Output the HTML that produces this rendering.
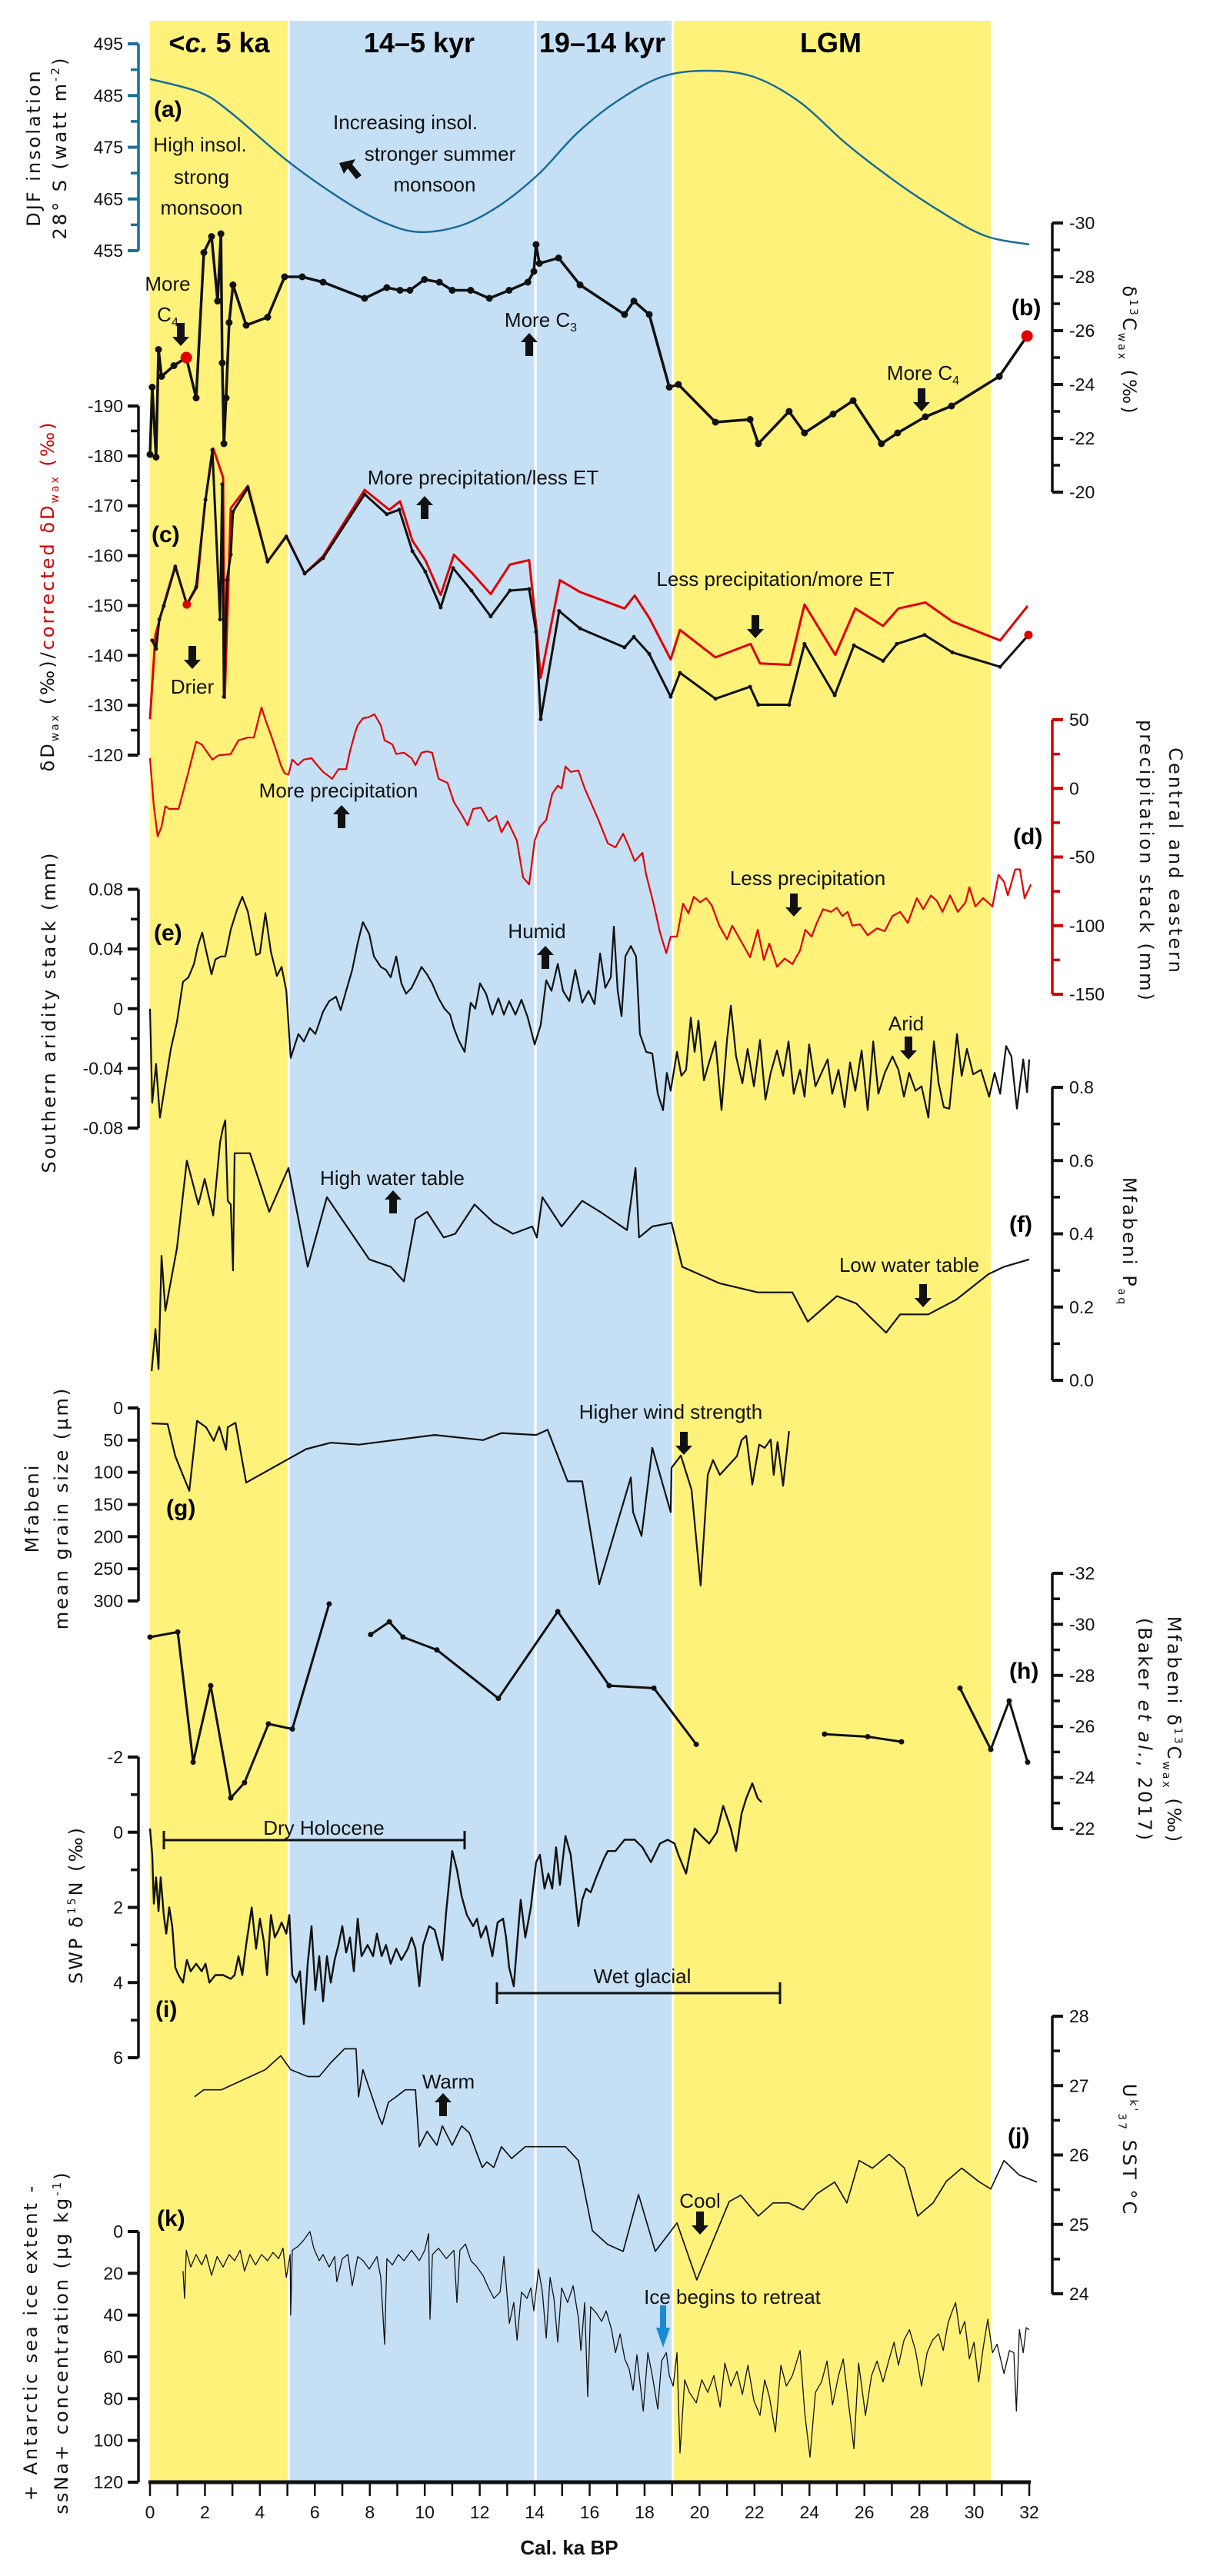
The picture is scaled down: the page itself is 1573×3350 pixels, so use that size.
<!DOCTYPE html>
<html><head><meta charset="utf-8">
<style>
html,body{margin:0;padding:0;background:#fff;}
svg{display:block;}
.tl{font-family:"Liberation Sans Narrow","Liberation Sans",sans-serif;font-size:23px;fill:#111;}
.ann{font-family:"Liberation Sans Narrow","Liberation Sans",sans-serif;font-size:26px;fill:#111;}
.hdr{font-family:"Liberation Sans Narrow","Liberation Sans",sans-serif;font-size:36px;font-weight:bold;fill:#000;}
.plab{font-family:"Liberation Sans Narrow","Liberation Sans",sans-serif;font-size:30px;font-weight:bold;fill:#000;}
.ttl{font-family:"DejaVu Sans","Liberation Sans",sans-serif;font-size:24px;letter-spacing:3px;fill:#111;}
</style></head>
<body>
<svg id="fig" xmlns="http://www.w3.org/2000/svg" width="1573" height="3350" viewBox="0 0 1573 3350">
<rect x="0" y="0" width="1573" height="3350" fill="#fff"/>
<g id="bands"></g>
<g id="axes"></g>
<g id="series"></g>

<!-- header labels -->
<g>
<text class="hdr" x="285" y="68" text-anchor="middle">&lt;<tspan font-style="italic">c.</tspan> 5 ka</text>
<text class="hdr" x="545" y="68" text-anchor="middle">14–5 kyr</text>
<text class="hdr" x="783" y="68" text-anchor="middle">19–14 kyr</text>
<text class="hdr" x="1080" y="68" text-anchor="middle">LGM</text>
</g>

<!-- panel letters -->
<g>
<text class="plab" x="200" y="152">(a)</text>
<text class="plab" x="1315" y="410">(b)</text>
<text class="plab" x="197" y="705">(c)</text>
<text class="plab" x="1317" y="1098">(d)</text>
<text class="plab" x="200" y="1223">(e)</text>
<text class="plab" x="1312" y="1602">(f)</text>
<text class="plab" x="216" y="1971">(g)</text>
<text class="plab" x="1312" y="2183">(h)</text>
<text class="plab" x="202" y="2623">(i)</text>
<text class="plab" x="1310" y="2788">(j)</text>
<text class="plab" x="204" y="2895">(k)</text>
</g>

<!-- annotations -->
<g>
<text class="ann" x="527" y="168" text-anchor="middle">Increasing insol.</text>
<text class="ann" x="572" y="209" text-anchor="middle">stronger summer</text>
<text class="ann" x="565" y="249" text-anchor="middle">monsoon</text>
<path d="M441 212 L462 207 L458 214 L470 228 L463 233 L452 219 L447 226 Z" fill="#111"/>
<text class="ann" x="260" y="197" text-anchor="middle">High insol.</text>
<text class="ann" x="262" y="239" text-anchor="middle">strong</text>
<text class="ann" x="262" y="279" text-anchor="middle">monsoon</text>
<text class="ann" x="218" y="378" text-anchor="middle">More</text>
<text class="ann" x="218" y="418" text-anchor="middle">C<tspan font-size="16" dy="6">4</tspan></text>
<text class="ann" x="703" y="425" text-anchor="middle">More C<tspan font-size="16" dy="6">3</tspan></text>
<text class="ann" x="1200" y="494" text-anchor="middle">More C<tspan font-size="16" dy="6">4</tspan></text>
<text class="ann" x="628" y="630" text-anchor="middle">More precipitation/less ET</text>
<text class="ann" x="1008" y="762" text-anchor="middle">Less precipitation/more ET</text>
<text class="ann" x="250" y="902" text-anchor="middle">Drier</text>
<text class="ann" x="440" y="1037" text-anchor="middle">More precipitation</text>
<text class="ann" x="1050" y="1151" text-anchor="middle">Less precipitation</text>
<text class="ann" x="698" y="1220" text-anchor="middle">Humid</text>
<text class="ann" x="1178" y="1340" text-anchor="middle">Arid</text>
<text class="ann" x="510" y="1541" text-anchor="middle">High water table</text>
<text class="ann" x="1182" y="1654" text-anchor="middle">Low water table</text>
<text class="ann" x="872" y="1845" text-anchor="middle">Higher wind strength</text>
<text class="ann" x="421" y="2386" text-anchor="middle">Dry Holocene</text>
<path d="M213 2393 H604 M213 2381 V2405 M604 2381 V2405" stroke="#111" stroke-width="3" fill="none"/>
<text class="ann" x="835" y="2579" text-anchor="middle">Wet glacial</text>
<path d="M646 2592 H1014 M646 2578 V2606 M1014 2578 V2606" stroke="#111" stroke-width="3" fill="none"/>
<text class="ann" x="583" y="2716" text-anchor="middle">Warm</text>
<text class="ann" x="910" y="2871" text-anchor="middle">Cool</text>
<text class="ann" x="952" y="2996" text-anchor="middle">Ice begins to retreat</text>
<path d="M858 2998 H866 V3027 H871 L862 3053 L853 3027 H858 Z" fill="#1a8ad4"/>
</g>

<!-- axis titles -->
<g>
<text class="ttl" transform="translate(52,192) rotate(-90)" text-anchor="middle">DJF insolation</text>
<text class="ttl" transform="translate(86,192) rotate(-90)" text-anchor="middle">28° S  (watt m<tspan font-size="15" dy="-9">-2</tspan><tspan dy="9">)</tspan></text>
<text class="ttl" transform="translate(70,775) rotate(-90)" text-anchor="middle">δD<tspan font-size="14" dy="6">wax</tspan><tspan dy="-6"> (‰)/</tspan><tspan fill="#d10000">corrected δD</tspan><tspan fill="#d10000" font-size="14" dy="6">wax</tspan><tspan fill="#d10000" dy="-6"> (‰)</tspan></text>
<text class="ttl" transform="translate(72,1316) rotate(-90)" text-anchor="middle">Southern aridity stack (mm)</text>
<text class="ttl" transform="translate(50,1961) rotate(-90)" text-anchor="middle">Mfabeni</text>
<text class="ttl" transform="translate(88,1961) rotate(-90)" text-anchor="middle">mean grain size (µm)</text>
<text class="ttl" transform="translate(107,2477) rotate(-90)" text-anchor="middle">SWP δ<tspan font-size="14" dy="-9">15</tspan><tspan dy="9">N (‰)</tspan></text>
<text class="ttl" transform="translate(48,3046) rotate(-90)" text-anchor="middle">+ Antarctic sea ice extent -</text>
<text class="ttl" transform="translate(88,3046) rotate(-90)" text-anchor="middle">ssNa+ concentration (µg kg<tspan font-size="15" dy="-9">-1</tspan><tspan dy="9">)</tspan></text>
<text class="ttl" transform="translate(1460,456) rotate(90)" text-anchor="middle">δ<tspan font-size="14" dy="-9">13</tspan><tspan dy="9">C</tspan><tspan font-size="14" dy="6">wax</tspan><tspan dy="-6"> (‰)</tspan></text>
<text class="ttl" transform="translate(1520,1120) rotate(90)" text-anchor="middle">Central and eastern</text>
<text class="ttl" transform="translate(1482,1120) rotate(90)" text-anchor="middle">precipitation stack (mm)</text>
<text class="ttl" transform="translate(1460,1615) rotate(90)" text-anchor="middle">Mfabeni P<tspan font-size="14" dy="6">aq</tspan></text>
<text class="ttl" transform="translate(1518,2250) rotate(90)" text-anchor="middle">Mfabeni δ<tspan font-size="14" dy="-9">13</tspan><tspan dy="9">C</tspan><tspan font-size="14" dy="6">wax</tspan><tspan dy="-6"> (‰)</tspan></text>
<text class="ttl" transform="translate(1480,2250) rotate(90)" text-anchor="middle">(Baker <tspan font-style="italic">et al.</tspan>, 2017)</text>
<text class="ttl" transform="translate(1460,2796) rotate(90)" text-anchor="middle">U<tspan font-size="14" dy="-9">k'</tspan><tspan font-size="14" dy="15">37</tspan><tspan dy="-6"> SST °C</tspan></text>
<text x="740" y="3322" text-anchor="middle" font-family="Liberation Sans Narrow, Liberation Sans, sans-serif" font-size="26" font-weight="bold" fill="#111">Cal. ka BP</text>
</g>
<g id="arrows"></g>
</svg>

<script>
// ---------- DATA (ages in ka BP) ----------
const bandStarts = [0, 5.05, 14.03, 19.03];
const bandEnds = [5.05, 14.03, 19.03, 30.6];
const bandKinds = ["yellow", "blue", "blue", "yellow"];

const insolAge = [0,1.82,2.94,5.04,7.14,8.54,9.8,11.34,12.74,14.14,15.54,16.94,18.62,20.3,21.98,23.66,25.34,27.02,28.7,30.38,32.0];
const insolVal = [488.2,485.6,481.7,472.2,464.4,460.4,458.6,459.9,463.8,469.8,477.7,483.7,488.6,489.8,488.6,483.7,475.7,468.8,462.8,457.9,456.2];

const d13cAge = [0,0.08,0.22,0.31,0.42,0.87,1.32,1.68,1.96,2.24, 2.46,2.58,2.63,2.69,2.77,2.88,3.02,3.5,4.28,4.9, 5.54,6.3,7.81,8.62,9.1,9.46,9.99,10.53,11.0,11.67, 12.35,13.07,13.75,13.97,14.05,14.17,14.87,15.65,17.27,17.61, 18.17,18.9,19.23,20.58,21.84,22.14,23.26,23.82,24.86,25.59, 26.62,27.21,28.22,29.17,30.91,31.92];
const d13cVal = [-21.4,-23.9,-21.3,-25.3,-24.3,-24.7,-25.0,-23.5,-28.9,-29.5, -27.1,-29.6,-24.8,-21.8,-23.5,-26.3,-27.7,-26.2,-26.5,-28, -28,-27.8,-27.2,-27.6,-27.5,-27.5,-27.9,-27.8,-27.5,-27.5, -27.2,-27.5,-27.8,-28.2,-29.2,-28.5,-28.7,-27.7,-26.6,-27.1, -26.6,-23.9,-24.0,-22.6,-22.7,-21.8,-23.0,-22.2,-22.9,-23.4, -21.8,-22.2,-22.8,-23.2,-24.3,-25.8];
const d13cRedIdx = [6, 55];

const dDAge = [0.08,0.22,0.34,0.5,0.92,1.34,1.68,2.02,2.27,2.55, 2.63,2.69,2.8,2.94,3.02,3.56,4.28,4.96,5.63,6.3, 7.81,8.62,9.07,9.55,10.02,10.58,11.03,11.7,12.4,13.1, 13.8,14.05,14.22,14.89,15.65,17.27,17.61,18.17,18.95,19.29, 20.58,21.84,22.14,23.26,23.82,24.92,25.62,26.68,27.18,28.19, 29.2,30.94,31.97];
const dDVal = [-143.0,-141.3,-147.2,-149.9,-157.8,-150.2,-153.7,-171.2,-181.2,-147.2, -174.3,-131.7,-155.1,-160.2,-168.8,-173.6,-158.8,-163.8,-156.4,-159.5, -172.3,-168.3,-169.2,-160.9,-156.8,-149.6,-157.5,-153.0,-147.8,-153.0, -153.3,-144.7,-127.2,-148.9,-145.4,-141.6,-143.7,-140.3,-131.7,-136.5, -131.3,-133.7,-130.1,-130.1,-142.3,-132.0,-142.0,-138.9,-142.3,-144.1, -140.6,-137.7,-144.1];
const dDRedIdx = [5, 52];

const dDcorAge = [0,0.2,0.5,0.92,1.34,1.71,1.99,2.3,2.66,2.72, 2.94,3.56,4.28,4.96,5.63,6.3,7.81,8.71,9.1,9.55, 10.02,10.58,11.06,11.67,12.4,13.1,13.8,14.05,14.22,14.92, 15.65,17.27,17.64,18.17,18.95,19.29,20.58,21.86,22.2,23.29, 23.82,24.94,25.67,26.68,27.24,28.22,29.2,30.94,31.94];
const dDcorVal = [-127.2,-144.1,-150.2,-158.0,-150.2,-153.7,-170.2,-181.5,-175.7,-131.5, -169.5,-174.0,-158.8,-164.0,-156.4,-159.9,-173.2,-169.2,-170.9,-163.0, -159.1,-152.1,-160.2,-156.8,-152.3,-158.2,-159.1,-146.1,-135.5,-155.1, -152.7,-149.4,-152.0,-147.5,-139.2,-145.1,-139.6,-142.3,-138.4,-138.1, -150.2,-140.1,-149.4,-145.9,-149.4,-150.6,-146.8,-143.0,-149.9];

const precipAge = [0,0.14,0.28,0.42,0.56,0.70,1.04,1.20,1.40,1.68, 1.88,2.27,2.49,2.94,3.22,3.56,3.78,4.06,4.20,4.40, 4.62,4.76,4.90,5.04,5.18,5.38,5.60,5.88,6.08,6.30, 6.63,6.86,7.14,7.28,7.47,7.56,7.75,7.98,8.17,8.40, 8.54,8.82,8.96,9.24,9.52,9.66,9.88,10.08,10.27,10.50, 10.83,11.06,11.34,11.56,11.76,12.04,12.32,12.60,12.79,13.02, 13.35,13.58,13.80,14.00,14.19,14.42,14.64,14.84,14.98,15.12, 15.31,15.59,15.82,16.04,16.32,16.66,16.94,17.22,17.44,17.64, 17.92,18.06,18.34,18.56,18.79,18.95,19.18,19.40,19.60,19.79, 20.02,20.24,20.44,20.72,21.00,21.19,21.56,21.84,22.12,22.34, 22.54,22.82,23.10,23.38,23.66,23.85,24.08,24.27,24.50,24.78, 25.00,25.20,25.39,25.56,25.84,26.12,26.46,26.74,27.02,27.30, 27.58,27.91,28.14,28.42,28.64,28.84,29.12,29.40,29.68,29.82, 30.04,30.32,30.66,30.88,31.08,31.22,31.49,31.66,31.83,32.06];
const precipVal = [22,-13,-35,-28,-13,-15,-15,-3,12,34, 32,21,24,25,35,37,37,59,50,39, 26,17,11,10,21,17,21,22,17,12, 7,14,14,27,41,46,51,52,54,46, 35,32,25,26,22,17,26,27,26,7, 4,-10,-19,-27,-15,-14,-24,-20,-32,-24, -38,-65,-70,-38,-28,-23,-4,2,0,16, 12,13,0,-10,-23,-40,-43,-33,-43,-53, -47,-63,-85,-105,-120,-108,-108,-84,-91,-79, -83,-80,-85,-100,-110,-100,-113,-123,-103,-125, -113,-130,-124,-128,-118,-103,-108,-98,-88,-90, -87,-93,-90,-100,-99,-107,-102,-104,-93,-90, -98,-80,-88,-78,-82,-90,-78,-90,-83,-72, -86,-80,-86,-63,-68,-78,-59,-59,-80,-70];

const aridAge = [0,0.08,0.22,0.36,0.56,0.76,0.98,1.20,1.40,1.60, 1.74,1.90,2.04,2.24,2.38,2.58,2.74,2.94,3.16,3.36, 3.56,3.86,4.00,4.20,4.40,4.62,4.79,4.96,5.12,5.40, 5.60,5.82,6.02,6.30,6.52,6.77,6.94,7.14,7.36,7.56, 7.75,7.98,8.15,8.40,8.59,8.76,8.96,9.15,9.32,9.52, 9.71,9.88,10.08,10.27,10.50,10.72,10.92,11.06,11.23,11.45, 11.67,11.84,12.01,12.23,12.46,12.68,12.88,13.07,13.30,13.52, 13.75,14.00,14.22,14.42,14.61,14.84,15.03,15.26,15.48,15.73, 15.96,16.18,16.38,16.57,16.77,16.88,17.02,17.16,17.30,17.50, 17.69,17.83,18.06,18.28,18.48,18.67,18.81,18.95,19.18,19.34, 19.51,19.68,19.82,19.96,20.16,20.35,20.58,20.80,21.00,21.14, 21.33,21.56,21.75,21.98,22.20,22.40,22.59,22.82,23.04,23.24, 23.43,23.66,23.82,23.99,24.22,24.44,24.66,24.83,25.06,25.28, 25.48,25.67,25.90,26.12,26.32,26.51,26.74,27.02,27.24,27.44, 27.63,27.86,28.08,28.33,28.53,28.70,28.89,29.09,29.37,29.54, 29.73,29.96,30.24,30.54,30.74,30.94,31.16,31.35,31.55,31.78, 31.92,32.00];
const aridVal = [0.000,-0.063,-0.037,-0.073,-0.050,-0.027,-0.009,0.018,0.021,0.030, 0.042,0.051,0.039,0.023,0.033,0.035,0.035,0.053,0.066,0.075, 0.065,0.036,0.037,0.064,0.038,0.022,0.028,0.012,-0.033,-0.017, -0.022,-0.013,-0.017,-0.002,0.005,0.008,-0.001,0.012,0.026,0.044, 0.058,0.050,0.035,0.028,0.026,0.021,0.035,0.017,0.010,0.014, 0.021,0.028,0.023,0.017,0.007,0.000,-0.004,-0.013,-0.021,-0.029, 0.004,0.000,0.017,0.010,-0.004,0.007,-0.004,0.005,-0.004,0.006, -0.006,-0.024,-0.011,0.019,0.012,0.030,0.012,0.005,0.026,0.004, 0.012,0.003,0.037,0.014,0.021,0.055,0.012,-0.005,0.035,0.042, 0.035,-0.017,-0.029,-0.030,-0.057,-0.068,-0.043,-0.055,-0.029,-0.045, -0.041,-0.006,-0.029,-0.008,-0.048,-0.036,-0.022,-0.068,-0.021,0.002, -0.032,-0.050,-0.027,-0.052,-0.021,-0.061,-0.043,-0.028,-0.045,-0.022, -0.057,-0.041,-0.059,-0.024,-0.052,-0.043,-0.034,-0.057,-0.041,-0.066, -0.036,-0.055,-0.028,-0.068,-0.022,-0.057,-0.043,-0.032,-0.041,-0.059, -0.043,-0.055,-0.052,-0.073,-0.022,-0.050,-0.066,-0.067,-0.017,-0.045, -0.027,-0.044,-0.041,-0.059,-0.043,-0.057,-0.025,-0.032,-0.067,-0.034, -0.056,-0.034];

const paqAge = [0.06,0.2,0.31,0.42,0.56,0.98,1.34,1.76,1.99,2.3, 2.55,2.66,2.74,2.83,2.94,3.02,3.08,3.64,4.34,5.04, 5.74,6.44,7.98,8.76,9.24,9.66,10.08,10.69,11.11,11.81, 12.51,13.21,13.91,14.08,14.28,14.98,15.73,16.38,17.36,17.67, 17.8,18.28,18.98,19.37,20.72,22.12,23.38,23.94,25.0,25.7, 26.79,27.3,28.33,29.34,30.52,31.08,32.0];
const paqVal = [0.025,0.14,0.03,0.34,0.19,0.36,0.60,0.48,0.55,0.45, 0.65,0.69,0.71,0.49,0.48,0.30,0.62,0.62,0.46,0.58, 0.31,0.50,0.33,0.31,0.27,0.44,0.46,0.39,0.40,0.48, 0.43,0.40,0.42,0.39,0.50,0.42,0.49,0.46,0.41,0.58, 0.39,0.42,0.43,0.31,0.265,0.24,0.24,0.16,0.23,0.21, 0.13,0.18,0.18,0.22,0.29,0.31,0.33];

const grainAge = [0.06,0.64,0.92,1.43,1.71,2.04,2.32,2.52,2.77,2.83, 3.11,3.5,5.68,6.58,7.61,10.36,12.12,12.79,14.05,14.47, 15.2,15.73,16.35,17.5,17.58,17.89,18.28,18.95,18.98,19.32, 19.71,20.04,20.3,20.49,20.74,21.36,21.53,21.7,21.92,22.17, 22.37,22.59,22.7,22.84,23.04,23.26];
const grainVal = [24,25,75,129,20,30,51,29,65,30, 23,116,64,54,57,42,50,39,42,34, 114,114,274,108,162,199,62,162,93,74, 127,276,104,81,104,75,50,43,119,57, 62,49,104,53,121,36];

const bakerAge = [0,1.01,1.57,2.21,2.94,3.44,4.31,5.18,6.52, 8.03,8.71,9.21,10.44,12.68,14.84,16.71,18.34,19.88, 24.55,26.12,27.35, 29.48,30.6,31.27,31.94];
const bakerVal = [-29.5,-29.7,-24.6,-27.6,-23.2,-23.8,-26.1,-25.9,-30.8, -29.6,-30.1,-29.5,-29.0,-27.1,-30.5,-27.6,-27.5,-25.3, -25.7,-25.6,-25.4, -27.5,-25.1,-27.0,-24.6];
const bakerSeg = [0,0,0,0,0,0,0,0,0, 1,1,1,1,1,1,1,1,1, 2,2,2, 3,3,3,3];

const swpAge = [0,0.08,0.14,0.22,0.31,0.39,0.5,0.59,0.7,0.81, 0.92,1.04,1.2,1.34,1.48,1.68,1.88,2.02,2.16,2.38, 2.66,2.94,3.08,3.22,3.36,3.5,3.7,3.86,4.0,4.14, 4.26,4.4,4.54,4.68,4.79,4.96,5.07,5.18,5.32,5.46, 5.6,5.74,5.88,6.02,6.16,6.3,6.44,6.58,6.72,6.86, 7.0,7.14,7.28,7.42,7.56,7.7,7.92,8.12,8.26,8.43, 8.59,8.76,8.96,9.15,9.38,9.52,9.66,9.8,9.94,10.16, 10.36,10.64,10.78,11.0,11.17,11.34,11.53,11.76,11.9,12.04, 12.23,12.46,12.65,12.85,12.96,13.07,13.24,13.38,13.49,13.66, 13.86,14.05,14.19,14.36,14.5,14.64,14.78,14.92,15.12,15.31, 15.48,15.59,15.73,15.87,16.04,16.24,16.52,16.66,16.94,17.27, 17.64,17.92,18.23,18.56,18.84,19.09,19.23,19.51,19.82,20.07, 20.35,20.63,20.86,21.14,21.33,21.53,21.7,21.92,22.12,22.26];
const swpVal = [-0.1,0.6,1.9,1.2,2.1,1.2,2.2,2.7,2.0,2.5, 3.6,3.8,4.0,3.4,3.7,3.5,3.7,3.5,4.0,3.8, 3.8,3.9,3.8,3.3,3.8,3.0,2.0,3.1,2.3,2.9, 3.8,2.2,2.8,2.6,2.4,2.7,2.2,3.8,4.0,3.7, 5.1,3.5,2.5,4.2,3.3,4.5,3.3,4.0,3.4,3.0, 2.5,3.2,2.8,3.7,2.3,3.3,3.0,3.3,2.7,3.3, 3.0,3.5,3.1,3.4,3.1,2.8,3.1,4.1,3.0,2.5, 2.6,3.4,2.1,0.5,1.0,1.7,2.2,2.5,2.3,2.8, 2.5,3.3,2.4,2.3,2.8,3.6,4.1,2.8,1.8,2.8, 2.0,0.8,0.6,1.5,1.1,1.5,0.4,1.4,0.1,0.6, 1.7,2.5,1.8,1.5,1.6,1.2,0.7,0.5,0.5,0.2, 0.2,0.4,0.8,0.3,0.2,0.3,0.6,1.1,-0.1,0.1, 0.3,0.0,-0.7,-0.1,0.5,-0.5,-0.9,-1.3,-0.9,-0.8];

const sstAge = [1.62,1.96,2.6,4.2,4.76,5.12,5.74,6.16,6.58,7.08, 7.5,7.59,7.75,8.34,8.45,8.68,8.96,9.29,9.66,9.8, 10.08,10.44,10.64,11.0,11.34,11.62,11.9,12.09,12.26,12.51, 12.79,13.16,13.66,15.12,15.59,16.1,16.66,17.22,17.78,18.39, 19.18,19.9,21.08,21.5,22.14,22.68,23.24,23.77,24.27,24.92, 25.36,25.81,26.29,26.9,27.46,27.94,28.5,28.98,29.54,30.15, 30.6,31.08,31.64,32.28];
const sstVal = [26.84,26.94,26.94,27.23,27.43,27.23,27.13,27.13,27.33,27.53, 27.53,26.84,27.23,26.54,26.44,26.76,26.84,26.94,26.94,26.12, 26.34,26.14,26.42,26.14,26.42,26.32,26.02,25.82,25.9,25.82, 26.12,25.95,26.12,26.12,25.92,24.91,24.71,24.61,25.43,24.61, 25.02,24.2,25.33,25.42,25.12,25.31,25.31,25.21,25.44,25.61, 25.31,25.92,25.81,26.01,25.81,25.12,25.31,25.62,25.81,25.62, 25.51,25.92,25.71,25.61];

const naAge = [1.20,1.26,1.32,1.48,1.68,1.88,2.04,2.24,2.44,2.66, 2.88,3.08,3.28,3.44,3.64,3.84,4.06,4.28,4.48,4.68, 4.84,4.96,5.10,5.12,5.18,5.40,5.60,5.82,5.96,6.16, 6.30,6.52,6.72,6.80,7.00,7.20,7.36,7.56,7.76,7.98, 8.26,8.40,8.54,8.62,8.82,9.04,9.24,9.52,9.80,10.00, 10.14,10.19,10.28,10.50,10.78,11.06,11.17,11.28,11.48,11.68, 11.90,12.12,12.32,12.52,12.74,12.88,13.08,13.24,13.36,13.52, 13.72,13.86,13.97,14.14,14.28,14.42,14.56,14.70,14.84,14.98, 15.20,15.40,15.60,15.68,15.82,15.93,16.04,16.24,16.44,16.60, 16.80,16.94,17.11,17.28,17.44,17.58,17.72,17.95,18.12,18.28, 18.48,18.62,18.79,18.90,19.04,19.18,19.29,19.46,19.63,19.88, 20.08,20.30,20.52,20.75,20.92,21.14,21.36,21.56,21.76,21.98, 22.20,22.37,22.54,22.76,22.96,23.16,23.38,23.66,23.83,24.02, 24.22,24.44,24.64,24.84,25.06,25.23,25.42,25.62,25.79,26.04, 26.26,26.46,26.68,26.88,27.08,27.24,27.44,27.64,27.86,28.08, 28.28,28.48,28.70,28.87,29.04,29.20,29.32,29.48,29.65,29.82, 29.99,30.16,30.32,30.49,30.66,30.83,31.08,31.28,31.44,31.53, 31.64,31.78,31.89,32.00];
const naVal = [19,32,9,17,11,16,11,21,12,17, 11,14,9,19,11,16,11,14,10,13, 8,22,11,40,9,7,4,0,8,14, 11,17,12,24,13,11,26,12,14,18, 12,22,54,13,16,11,14,9,14,9, 1,42,11,8,13,9,34,9,6,14, 17,21,27,32,29,12,44,34,52,29, 32,27,38,18,29,51,22,32,53,27, 34,26,42,57,34,79,36,39,43,38, 47,58,49,61,66,76,59,86,58,69, 85,62,58,69,74,58,106,71,77,82, 71,77,69,84,63,74,67,78,64,81, 88,71,79,96,64,74,69,57,87,108, 77,72,62,83,69,61,82,104,63,88, 69,62,72,62,53,64,52,47,57,74, 58,52,49,57,44,38,34,49,43,61, 53,72,56,42,58,54,68,57,58,86, 47,58,46,47];

// tick arrays
const xTicks = [0,1,2,3,4,5,6,7,8,9,10,11,12,13,14,15,16,17,18,19,20,21,22,23,24,25,26,27,28,29,30,31,32];
const xTickLabels = [0,2,4,6,8,10,12,14,16,18,20,22,24,26,28,30,32];
const aTicks = [455,465,475,485,495];
const bTicks = [-30,-28,-26,-24,-22,-20];
const cTicks = [-190,-180,-170,-160,-150,-140,-130,-120];
const dTicks = [50,0,-50,-100,-150];
const eTicks = [0.08,0.04,0,-0.04,-0.08];
const eTickLabels = ["0.08","0.04","0","-0.04","-0.08"];
const fTicks = [0.8,0.6,0.4,0.2,0.0];
const fTickLabels = ["0.8","0.6","0.4","0.2","0.0"];
const gTicks = [0,50,100,150,200,250,300];
const hTicks = [-32,-30,-28,-26,-24,-22];
const iTicks = [-2,0,2,4,6];
const jTicks = [28,27,26,25,24];
const kTicks = [0,20,40,60,80,100,120];

// ---------- SCALES ----------
const NS = "http://www.w3.org/2000/svg";
const X = t => 195 + t * 35.72;
function lin(v0, y0, v1, y1) { return v => y0 + (v - v0) * (y1 - y0) / (v1 - v0); }
const yA = lin(495, 57, 455, 326);
const yB = lin(-30, 290, -20, 640);
const yC = lin(-190, 528, -120, 982);
const yD = lin(50, 936, -150, 1293);
const yE = lin(0.08, 1156.5, -0.08, 1467);
const yF = lin(0.8, 1414, 0, 1795);
const yG = lin(0, 1831, 300, 2082);
const yH = lin(-32, 2046, -22, 2378);
const yI = lin(-2, 2285, 6, 2676);
const yJ = lin(28, 2622, 24, 2983);
const yK = lin(0, 2902, 120, 3228);
const PLOT_TOP = 27, PLOT_BOTTOM = 3228;

function mk(tag, attrs, parent) {
  const el = document.createElementNS(NS, tag);
  for (const k in attrs) el.setAttribute(k, attrs[k]);
  parent.appendChild(el);
  return el;
}
const gBands = document.getElementById('bands');
const gAxes = document.getElementById('axes');
const gSeries = document.getElementById('series');
const gArrows = document.getElementById('arrows');

// bands
for (let i = 0; i < bandStarts.length; i++) {
  const r = mk('rect', {x: X(bandStarts[i]), y: PLOT_TOP, width: X(bandEnds[i]) - X(bandStarts[i]), height: PLOT_BOTTOM - PLOT_TOP, fill: bandKinds[i] === 'yellow' ? '#fef27a' : '#c5e0f5'}, gBands);
  
  
}
for (let i = 1; i < bandStarts.length; i++) {
  const l = mk('line', {x1: X(bandStarts[i]), x2: X(bandStarts[i]), y1: PLOT_TOP, y2: PLOT_BOTTOM, stroke: '#fff', 'stroke-width': 3}, gBands);
  
  
}

// axes
function yAxis(name, side, scale, ticks, labels, color, minorStep) {
  const g = mk('g', {}, gAxes);
  
  
  const x = side === 'left' ? 180 : 1368;
  const dir = side === 'left' ? -1 : 1;
  const ys = ticks.map(scale);
  mk('line', {x1: x, x2: x, y1: Math.min(...ys), y2: Math.max(...ys), stroke: color, 'stroke-width': 3.5}, g);
  ticks.forEach((t, i) => {
    const y = scale(t);
    mk('line', {x1: x, x2: x + dir * 14, y1: y, y2: y, stroke: color, 'stroke-width': 4}, g);
    const tx = mk('text', {x: side === 'left' ? 160 : 1390, y: y + 8, 'text-anchor': side === 'left' ? 'end' : 'start', class: 'tl'}, g);
    
    
    tx.textContent = labels ? labels[i] : String(t);
    if (minorStep && i < ticks.length - 1) {
      const mv = t + (ticks[i + 1] - t) / 2;
      const my = scale(mv);
      mk('line', {x1: x, x2: x + dir * 10, y1: my, y2: my, stroke: color, 'stroke-width': 3.5}, g);
    }
  });
}
yAxis('y-axis-a', 'left', yA, aTicks, null, '#1b6f99', true);
yAxis('y-axis-b', 'right', yB, bTicks, null, '#111', true);
yAxis('y-axis-c', 'left', yC, cTicks, null, '#111', true);
yAxis('y-axis-d', 'right', yD, dTicks, null, '#d10000', true);
yAxis('y-axis-e', 'left', yE, eTicks, eTickLabels, '#111', true);
yAxis('y-axis-f', 'right', yF, fTicks, fTickLabels, '#111', true);
yAxis('y-axis-g', 'left', yG, gTicks, null, '#111', false);
yAxis('y-axis-h', 'right', yH, hTicks, null, '#111', true);
yAxis('y-axis-i', 'left', yI, iTicks, null, '#111', true);
yAxis('y-axis-j', 'right', yJ, jTicks, null, '#111', true);
yAxis('y-axis-k', 'left', yK, kTicks, null, '#111', false);

// x axis
const gx = mk('g', {}, gAxes);


mk('line', {x1: X(0) - 2, x2: X(32) + 2, y1: PLOT_BOTTOM, y2: PLOT_BOTTOM, stroke: '#111', 'stroke-width': 5}, gx);
xTicks.forEach(t => {
  mk('line', {x1: X(t), x2: X(t), y1: PLOT_BOTTOM, y2: PLOT_BOTTOM + 18, stroke: '#111', 'stroke-width': 2.5}, gx);
});
xTickLabels.forEach(t => {
  const tx = mk('text', {x: X(t), y: PLOT_BOTTOM + 47, 'text-anchor': 'middle', class: 'tl'}, gx);
  
  
  tx.textContent = String(t);
});

// series
function polyline(name, ages, vals, scale, color, width) {
  const n = Math.min(ages.length, vals.length);
  const pts = [];
  for (let i = 0; i < n; i++) pts.push(X(ages[i]).toFixed(1) + ',' + scale(vals[i]).toFixed(1));
  const p = mk('polyline', {points: pts.join(' '), fill: 'none', stroke: color, 'stroke-width': width, 'stroke-linejoin': 'round'}, gSeries);
  
  
  return p;
}
function smoothPath(name, ages, vals, scale, color, width) {
  const P = ages.map((a, i) => [X(a), scale(vals[i])]);
  let d = 'M' + P[0][0] + ' ' + P[0][1];
  for (let i = 0; i < P.length - 1; i++) {
    const p0 = P[Math.max(0, i - 1)], p1 = P[i], p2 = P[i + 1], p3 = P[Math.min(P.length - 1, i + 2)];
    const c1 = [p1[0] + (p2[0] - p0[0]) / 6, p1[1] + (p2[1] - p0[1]) / 6];
    const c2 = [p2[0] - (p3[0] - p1[0]) / 6, p2[1] - (p3[1] - p1[1]) / 6];
    d += ' C' + c1[0].toFixed(1) + ' ' + c1[1].toFixed(1) + ' ' + c2[0].toFixed(1) + ' ' + c2[1].toFixed(1) + ' ' + p2[0].toFixed(1) + ' ' + p2[1].toFixed(1);
  }
  const p = mk('path', {d: d, fill: 'none', stroke: color, 'stroke-width': width}, gSeries);
  
  
}
function dots(name, ages, vals, scale, r, redIdx) {
  const n = Math.min(ages.length, vals.length);
  for (let i = 0; i < n; i++) {
    const red = redIdx && redIdx.indexOf(i) >= 0;
    const c = mk('circle', {cx: X(ages[i]), cy: scale(vals[i]), r: red ? r + 3 : r, fill: red ? '#e00000' : '#111'}, gSeries);
    
    
  }
}

smoothPath('insolation-line', insolAge, insolVal, yA, '#1a6b9b', 2.5);
polyline('d13c-wax-line', d13cAge, d13cVal, yB, '#111', 3.5);
dots('d13c-wax-point', d13cAge, d13cVal, yB, 4.5, d13cRedIdx);
polyline('dD-corrected-line', dDcorAge, dDcorVal, yC, '#e00000', 3);
polyline('dD-wax-line', dDAge, dDVal, yC, '#111', 3);
dots('dD-wax-point', dDAge, dDVal, yC, 2.5, dDRedIdx);
polyline('precip-stack-line', precipAge, precipVal, yD, '#e00000', 2.2);
polyline('aridity-stack-line', aridAge, aridVal, yE, '#111', 2.2);
polyline('paq-line', paqAge, paqVal, yF, '#111', 2.2);
polyline('grain-size-line', grainAge, grainVal, yG, '#111', 2.2);
// Baker segments
const segIds = [...new Set(bakerSeg)];
segIds.forEach(s => {
  const a = [], v = [];
  bakerSeg.forEach((sg, i) => { if (sg === s) { a.push(bakerAge[i]); v.push(bakerVal[i]); } });
  polyline('baker-d13c-segment-' + s, a, v, yH, '#111', 3);
});
dots('baker-d13c-point', bakerAge, bakerVal, yH, 3.5, null);
polyline('swp-d15n-line', swpAge, swpVal, yI, '#111', 2.4);
polyline('sst-line', sstAge, sstVal, yJ, '#111', 1.7);
polyline('ssna-line', naAge, naVal, yK, '#111', 1.3);

// annotation arrows (x, yTop, direction)
const arrowX = [235, 688, 1198, 552, 982, 250, 444, 1032, 709, 1181, 511, 1200, 889, 576, 910];
const arrowY = [420, 433, 505, 645, 800, 840, 1047, 1162, 1230, 1348, 1548, 1670, 1862, 2722, 2876];
const arrowUp = [0, 1, 0, 1, 0, 0, 1, 0, 1, 0, 1, 0, 0, 1, 0];
arrowX.forEach((x, i) => {
  const y = arrowY[i], h = 30;
  let d;
  if (arrowUp[i]) d = `M${x - 5} ${y + h} V${y + 12} H${x - 11} L${x} ${y} L${x + 11} ${y + 12} H${x + 5} V${y + h} Z`;
  else d = `M${x - 5} ${y} V${y + h - 12} H${x - 11} L${x} ${y + h} L${x + 11} ${y + h - 12} H${x + 5} V${y} Z`;
  const p = mk('path', {d: d, fill: '#111'}, gArrows);
  
  
});
</script>
</body></html>
